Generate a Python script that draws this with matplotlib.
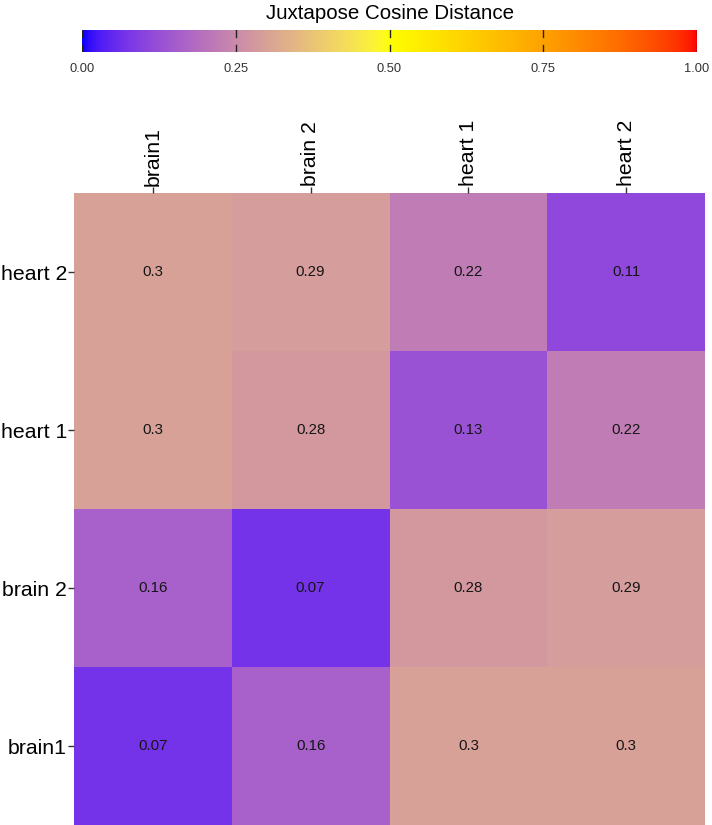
import numpy as np
import matplotlib
matplotlib.use("Agg")
import matplotlib.pyplot as plt
from matplotlib.colors import ListedColormap, Normalize

plt.rcParams['font.family'] = ['Liberation Sans', 'DejaVu Sans']

# ---- data ----
x_labels = ["brain1", "brain 2", "heart 1", "heart 2"]
y_labels = ["brain1", "brain 2", "heart 1", "heart 2"]  # bottom to top
row_brain1 = [0.07, 0.16, 0.30, 0.30]
row_brain2 = [0.16, 0.07, 0.28, 0.29]
row_heart1 = [0.30, 0.28, 0.13, 0.22]
row_heart2 = [0.30, 0.29, 0.22, 0.11]
cbar_ticks = [0.0, 0.25, 0.5, 0.75, 1.0]
grad_colors = ["#0000FF", "#FFFF00", "#FF0000"]
grad_stops = [0.0, 0.5, 1.0]
title = "Juxtapose Cosine Distance"

values = np.array([row_brain1, row_brain2, row_heart1, row_heart2])

# ---- Lab-interpolated gradient (like ggplot's gradientn) ----
def hex2rgb(h):
    h = h.lstrip('#')
    return np.array([int(h[i:i + 2], 16) / 255 for i in (0, 2, 4)])

M = np.array([[0.4124564, 0.3575761, 0.1804375],
              [0.2126729, 0.7151522, 0.0721750],
              [0.0193339, 0.1191920, 0.9503041]])
WP = np.array([0.95047, 1.0, 1.08883])

def rgb2lab(rgb):
    lin = np.where(rgb <= 0.04045, rgb / 12.92, ((rgb + 0.055) / 1.055) ** 2.4)
    xyz = M @ lin / WP
    d = 6 / 29
    f = np.where(xyz > d ** 3, np.cbrt(xyz), xyz / (3 * d * d) + 4 / 29)
    return np.array([116 * f[1] - 16, 500 * (f[0] - f[1]), 200 * (f[1] - f[2])])

def lab2rgb(lab):
    L, a, b = lab
    fy = (L + 16) / 116
    fx = fy + a / 500
    fz = fy - b / 200
    d = 6 / 29
    f = np.array([fx, fy, fz])
    xyz = np.where(f > d, f ** 3, 3 * d * d * (f - 4 / 29)) * WP
    lin = np.linalg.solve(M, xyz)
    lin = np.clip(lin, 0, 1)
    rgb = np.where(lin <= 0.0031308, 12.92 * lin, 1.055 * lin ** (1 / 2.4) - 0.055)
    return np.clip(rgb, 0, 1)

labs = [rgb2lab(hex2rgb(c)) for c in grad_colors]
N = 512
cols = []
for t in np.linspace(0, 1, N):
    i = min(np.searchsorted(grad_stops, t, side='right') - 1, len(grad_stops) - 2)
    u = (t - grad_stops[i]) / (grad_stops[i + 1] - grad_stops[i])
    cols.append(lab2rgb(labs[i] * (1 - u) + labs[i + 1] * u))
cmap = ListedColormap(cols)
norm = Normalize(0, 1)

# ---- figure ----
W, H = 712, 825
fig = plt.figure(figsize=(W / 100, H / 100), dpi=100)

def rect(l, t, r, b):
    return [l / W, 1 - b / H, (r - l) / W, (b - t) / H]

ax = fig.add_axes(rect(74, 193, 705, 825))
ax.pcolormesh(np.arange(len(x_labels) + 1) - 0.5, np.arange(len(y_labels) + 1) - 0.5,
              values, cmap=cmap, norm=norm, shading='flat')
for i in range(len(y_labels)):
    for j in range(len(x_labels)):
        ax.text(j, i, f"{values[i, j]:g}", ha='center', va='center', fontsize=10.8, color='#151515')
ax.set_xlim(-0.5, len(x_labels) - 0.5)
ax.set_ylim(-0.5, len(y_labels) - 0.5)
for s in ax.spines.values():
    s.set_visible(False)
ax.set_xticks(range(len(x_labels)))
ax.set_xticklabels(x_labels, rotation=90, va='bottom')
ax.set_yticks(range(len(y_labels)))
ax.set_yticklabels(y_labels)
ax.tick_params(axis='x', top=True, bottom=False, labeltop=True, labelbottom=False,
               length=4, width=1, pad=1, labelsize=15.3, color='#333333')
ax.tick_params(axis='y', length=4, width=1, pad=1, labelsize=15.3, color='#333333')
for lbl in ax.get_xticklabels():
    lbl.set_horizontalalignment('center')

# ---- colorbar ----
cax = fig.add_axes(rect(82, 30, 697, 52))
grad = np.linspace(0, 1, N).reshape(1, -1)
cax.imshow(grad, cmap=cmap, norm=norm, aspect='auto', extent=[0, 1, 0, 1])
cax.set_xlim(0, 1)
cax.set_ylim(0, 1)
for t in cbar_ticks:
    cax.plot([t, t], [0, 0.3], color='#222222', lw=1)
    cax.plot([t, t], [0.7, 1], color='#222222', lw=1)
for s in cax.spines.values():
    s.set_visible(False)
cax.set_yticks([])
cax.set_xticks(cbar_ticks)
cax.set_xticklabels([f"{t:.2f}" for t in cbar_ticks])
cax.tick_params(axis='x', length=0, pad=8, labelsize=9.3, labelcolor='#333333')
fig.text(390 / W, 1 - 19 / H, title, ha='center', va='baseline', fontsize=14.8)

fig.savefig("out.png", dpi=100)
